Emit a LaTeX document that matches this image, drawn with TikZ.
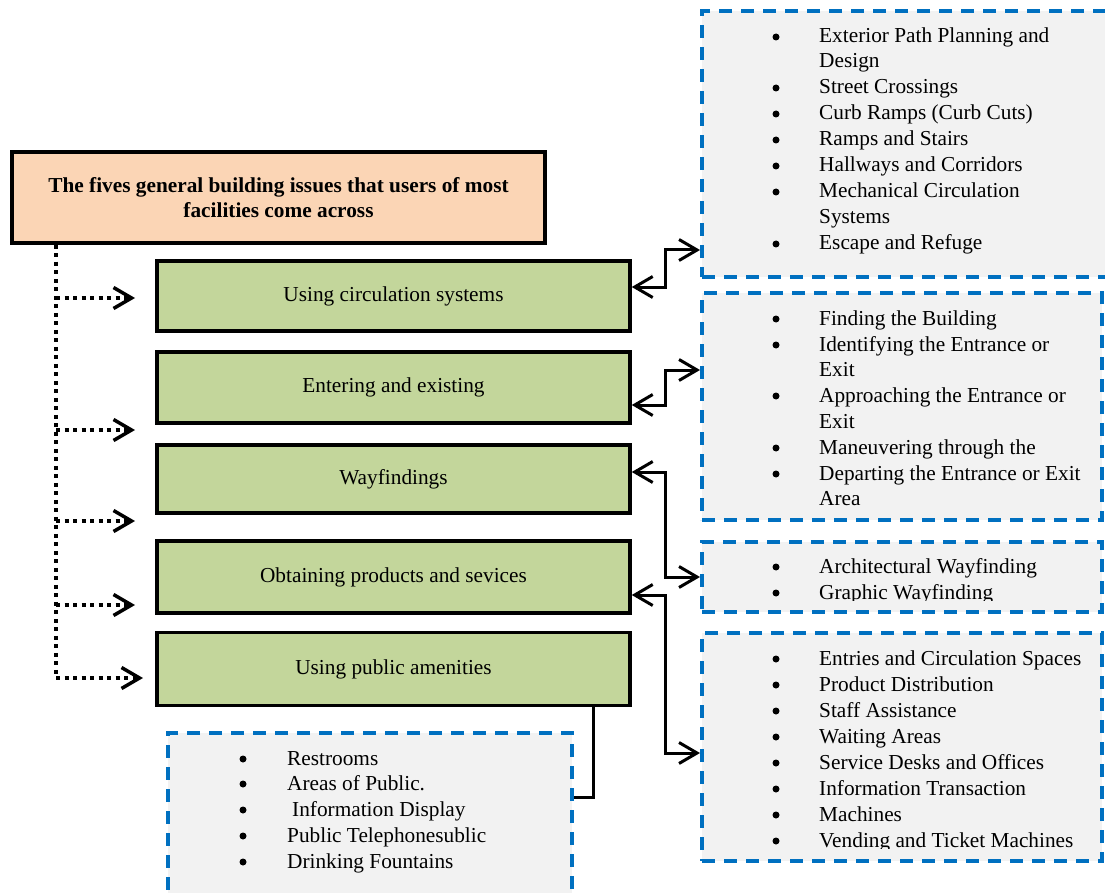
\documentclass[tikz,border=0pt]{standalone}
\usepackage{fontspec}
\setmainfont{Liberation Serif}
\usetikzlibrary{arrows.meta}
\definecolor{peach}{HTML}{FBD5B5}
\definecolor{olive}{HTML}{C3D69B}
\definecolor{panel}{HTML}{F2F2F2}
\definecolor{dblue}{HTML}{0070C0}
\begin{document}
\begin{tikzpicture}[x=1pt,y=-1pt,
  >={Straight Barb[length=18pt,width=21pt]},
  box/.style={draw=black, line width=3.5pt, inner sep=0pt, align=center, font=\fontsize{21.3}{25}\selectfont},
  titlebox/.style={box, fill=peach, font=\bfseries\fontsize{21.3}{25}\selectfont, minimum width=533pt, minimum height=91pt},
  greenbox/.style={box, fill=olive, minimum width=473pt},
  panelbox/.style={draw=dblue, fill=panel, line width=4pt, dash pattern=on 13pt off 9pt, inner sep=0pt},
  item/.style={anchor=base west, inner sep=0pt, font=\fontsize{21.3}{26}\selectfont},
  bul/.style={circle, fill=black, inner sep=0pt, minimum size=7pt},
  conn/.style={line width=3pt, black},
  dots/.style={line width=3.5pt, black, dash pattern=on 4pt off 4.5pt}]
\useasboundingbox (0,0) rectangle (1105,893);

% main boxes
\node[titlebox] (title) at (278.5,197.5) {The fives general building issues that users of most\\facilities come across};
\node[greenbox, minimum height=70pt] (b1) at (393.5,296) {Using circulation systems};
\node[greenbox, minimum height=71pt] (b2) at (393.5,387.5) {Entering and existing};
\node[greenbox, minimum height=68pt] (b3) at (393.5,479) {Wayfindings};
\node[greenbox, minimum height=72pt] (b4) at (393.5,577) {Obtaining products and sevices};
\node[greenbox, minimum height=73pt] (b5) at (393.5,669) {Using public amenities};

% panels
\node[panelbox, minimum width=410pt, minimum height=266pt] (r1) at (907,144) {};
\node[panelbox, minimum width=400pt, minimum height=227pt] (r2) at (902,406.5) {};
\node[panelbox, minimum width=400pt, minimum height=70pt] (r3) at (902,577) {};
\node[panelbox, minimum width=400pt, minimum height=228pt] (r4) at (902,747) {};
\node[panelbox, minimum width=404pt, minimum height=170pt] (bl) at (370,818) {};

% lists
\begin{scope}
\clip (700,11) rectangle (1105,270);
\foreach \y/\b/\t [count=\i] in {43/1/{Exterior Path Planning and}, 68/0/{Design}, 94/1/{Street Crossings}, 120/1/{Curb Ramps (Curb Cuts)}, 146/1/{Ramps and Stairs}, 172/1/{Hallways and Corridors}, 198/1/{Mechanical Circulation}, 224/0/{Systems}, 250/1/{Escape and Refuge}}{
  \node[item] (ra\i) at (819,\y) {\t};
  \ifnum\b=1 \node[bul] (rab\i) at (776,\y-6) {};\fi
}
\end{scope}
\begin{scope}
\clip (700,293) rectangle (1105,510);
\foreach \y/\b/\t [count=\i] in {325/1/{Finding the Building}, 351/1/{Identifying the Entrance or}, 376/0/{Exit}, 402/1/{Approaching the Entrance or}, 428/0/{Exit}, 454/1/{Maneuvering through the}, 480/1/{Departing the Entrance or Exit}, 505/0/{Area}}{
  \node[item] (rb\i) at (819,\y) {\t};
  \ifnum\b=1 \node[bul] (rbb\i) at (776,\y-6) {};\fi
}
\end{scope}
\begin{scope}
\clip (700,542) rectangle (1105,600);
\foreach \y/\t [count=\i] in {573/{Architectural Wayfinding}, 599/{Graphic Wayfinding}}{
  \node[item] (rc\i) at (819,\y) {\t};
  \node[bul] (rcb\i) at (776,\y-6) {};
}
\end{scope}
\begin{scope}
\clip (700,633) rectangle (1105,848);
\foreach \y/\t [count=\i] in {665/{Entries and Circulation Spaces}, 691/{Product Distribution}, 717/{Staff Assistance}, 743/{Waiting Areas}, 769/{Service Desks and Offices}, 795/{Information Transaction}, 821/{Machines}, 847/{Vending and Ticket Machines}}{
  \node[item] (rd\i) at (819,\y) {\t};
  \node[bul] (rdb\i) at (776,\y-6) {};
}
\end{scope}
\foreach \y/\t [count=\i] in {765/{Restrooms}, 790/{Areas of Public.}, 816/{\hspace{5pt}Information Display}, 842/{Public Telephonesublic}, 868/{Drinking Fountains}}{
  \node[item] (bt\i) at (287,\y) {\t};
  \node[bul] (btb\i) at (243,\y-6) {};
}

% dotted connectors
\coordinate (t1) at (56,298);  \coordinate (h1) at (135,298);
\coordinate (t2) at (56,430);  \coordinate (h2) at (135,430);
\coordinate (t3) at (56,521);  \coordinate (h3) at (135,521);
\coordinate (t4) at (56,605);  \coordinate (h4) at (135,605);
\coordinate (t5) at (56,678);  \coordinate (h5) at (143,678);
\draw[dots] ([xshift=-222.5pt]title.south) -- (t5);
\foreach \i in {1,...,5}{\draw[dots,->] (t\i) -- (h\i);}

% solid connectors
\draw[conn,<->] ([yshift=9pt]b1.east) -- ++(34,0) |- ([yshift=-106pt]r1.west);
\draw[conn,<->] ([yshift=-17.5pt]b2.east) -- ++(34,0) |- ([yshift=36.5pt]r2.west);
\draw[conn,<->] ([yshift=7pt]b3.east) -- ++(34,0) |- (r3.west);
\draw[conn,<->] ([yshift=-18pt]b4.east) -- ++(34,0) |- ([yshift=-6pt]r4.west);
\draw[conn] ([xshift=199.5pt]b5.south) |- ([yshift=21pt]bl.east);
\end{tikzpicture}
\end{document}
